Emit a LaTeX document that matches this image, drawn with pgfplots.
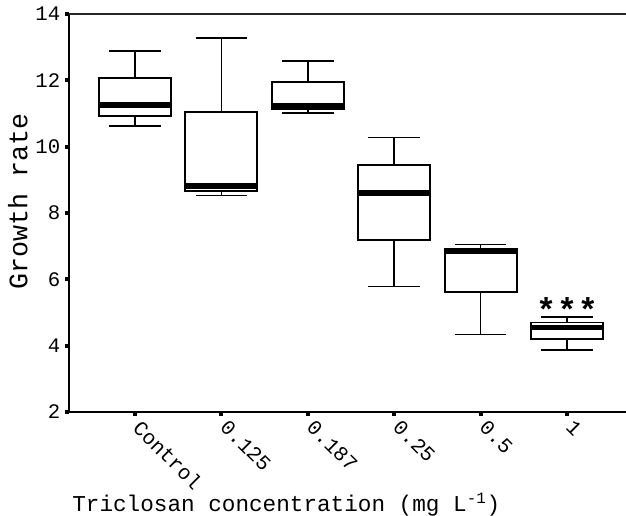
\documentclass[border=0pt]{standalone}
\usepackage{fontspec}
\setmainfont{Liberation Mono}
\newfontfamily\starfont{Liberation Sans}
\usepackage{pgfplots}
\pgfplotsset{compat=1.18}
\usepgfplotslibrary{statistics}

\begin{document}
\begin{tikzpicture}
\begin{axis}[
    at={(0,0)}, anchor=south west,
    scale only axis,
    width=417.75pt, height=298.5pt,
    xmin=-0.764, xmax=5.683,
    ymin=2, ymax=14,
    ytick={2,4,6,8,10,12,14},
    xtick={0,1,2,3,4,5},
    xticklabels={Control, 0.125, 0.187, 0.25, 0.5, 1},
    axis x line*=bottom, axis y line*=left,
    axis line style={line width=1.5pt},
    tick align=outside,
    major tick length=3pt,
    tick style={line width=3pt, black},
    /pgf/number format/assume math mode=true,
    tick label style={font=\fontsize{15.5}{18}\selectfont},
    yticklabel style={xshift=0pt},
    xticklabel style={rotate=-45, anchor=north west, xshift=2pt, yshift=6pt},
    ylabel={Growth rate},
    ylabel style={font=\fontsize{20}{24}\selectfont, at={(axis description cs:-0.092,0.528)}, anchor=center},
    xlabel={Triclosan concentration (mg L\textsuperscript{-1})},
    xlabel style={font=\fontsize{17}{20}\selectfont, at={(axis description cs:0.39,-0.251)}, anchor=base},
    boxplot/draw direction=y,
    boxplot/box extend=0.833,
    boxplot/whisker extend=0.595,
    boxplot/every box/.style={line width=1.4pt},
    boxplot/every whisker/.style={line width=1.1pt},
    boxplot/every median/.style={line width=4.2pt},
]
% Control
\addplot[black, boxplot prepared={draw position=0, lower whisker=10.62, lower quartile=10.92, median=11.26, upper quartile=12.06, upper whisker=12.88}] coordinates {};
% 0.125
\addplot[black, boxplot prepared={draw position=1, lower whisker=8.53, lower quartile=8.66, median=8.81, upper quartile=11.05, upper whisker=13.27}] coordinates {};
% 0.187
\addplot[black, boxplot prepared={draw position=2, lower whisker=11.02, lower quartile=11.13, median=11.24, upper quartile=11.94, upper whisker=12.58}] coordinates {};
% 0.25
\addplot[black, boxplot prepared={draw position=3, lower whisker=5.79, lower quartile=7.18, median=8.60, upper quartile=9.45, upper whisker=10.27}] coordinates {};
% 0.5
\addplot[black, boxplot prepared={draw position=4, lower whisker=4.34, lower quartile=5.62, median=6.84, upper quartile=6.92, upper whisker=7.05}] coordinates {};
% 1
\addplot[black, boxplot prepared={draw position=5, lower whisker=3.87, lower quartile=4.21, median=4.55, upper quartile=4.70, upper whisker=4.86}] coordinates {};

\draw[line width=1pt, black!85] (rel axis cs:0,1) -- (rel axis cs:1,1);
\node[anchor=base, font=\starfont\bfseries\fontsize{25}{28}\selectfont, inner sep=0pt]
    at (axis cs:5,4.76) {*\hspace{6pt}*\hspace{6pt}*};
\end{axis}
\pgfresetboundingbox
\useasboundingbox (-51.75pt,-78pt) rectangle (417.75pt,309pt);
\end{tikzpicture}
\end{document}
